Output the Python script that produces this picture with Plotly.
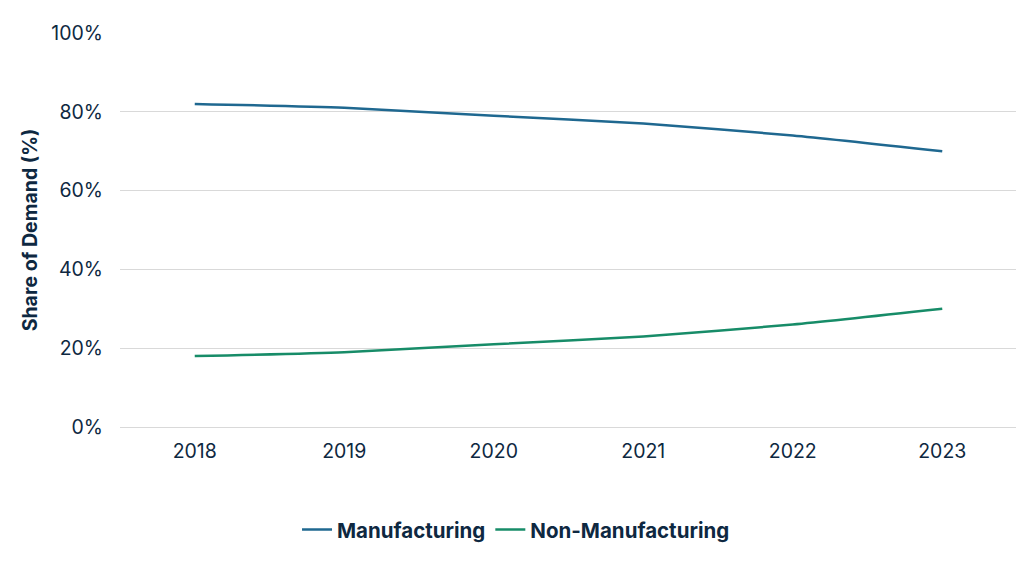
import plotly.graph_objects as go

years = ["2018", "2019", "2020", "2021", "2022", "2023"]
manufacturing = [82, 81, 79, 77, 74, 70]
non_manufacturing = [18, 19, 21, 23, 26, 30]
y_ticks = [0, 20, 40, 60, 80, 100]
y_tick_labels = ["0%", "20%", "40%", "60%", "80%", "100%"]

text_color = "#0E2841"
font_family = "Inter, Open Sans, sans-serif"

fig = go.Figure()
fig.add_trace(go.Scatter(x=years, y=manufacturing, name="Manufacturing", mode="lines",
                         line=dict(color="#1F6890", width=2.5, shape="spline", smoothing=0.6)))
fig.add_trace(go.Scatter(x=years, y=non_manufacturing, name="Non-Manufacturing", mode="lines",
                         line=dict(color="#178C68", width=2.5, shape="spline", smoothing=0.6)))

fig.update_layout(
    width=1024, height=564,
    margin=dict(l=112, r=15, t=25, b=145),
    plot_bgcolor="white", paper_bgcolor="white",
    font=dict(family=font_family, color=text_color, size=18),
    legend=dict(orientation="h", x=0.4415, xanchor="center",
                y=-0.21, yanchor="top",
                font=dict(size=20.5, color=text_color, family=font_family, weight="bold"),
                itemwidth=30, tracegroupgap=0),
    showlegend=True,
)
fig.update_xaxes(type="category", range=[-0.5, 5.5], showgrid=False, showline=False,
                 ticks="", tickfont=dict(size=19.5, color=text_color), ticklabelstandoff=10)
fig.update_yaxes(range=[0, 100], tickvals=y_ticks, ticktext=y_tick_labels,
                 showgrid=True, gridcolor="#D9D9D9", gridwidth=1, zeroline=True,
                 zerolinecolor="#D9D9D9", zerolinewidth=1, showline=False,
                 tickfont=dict(size=19.5, color=text_color), ticklabelstandoff=16)
fig.add_annotation(text="<b>Share of Demand (%)</b>", textangle=-90,
                   xref="paper", x=-0.1, xanchor="center",
                   yref="paper", y=0.5, yanchor="middle", showarrow=False,
                   font=dict(size=19.5, color=text_color, family=font_family))

fig.write_html("out.html")
